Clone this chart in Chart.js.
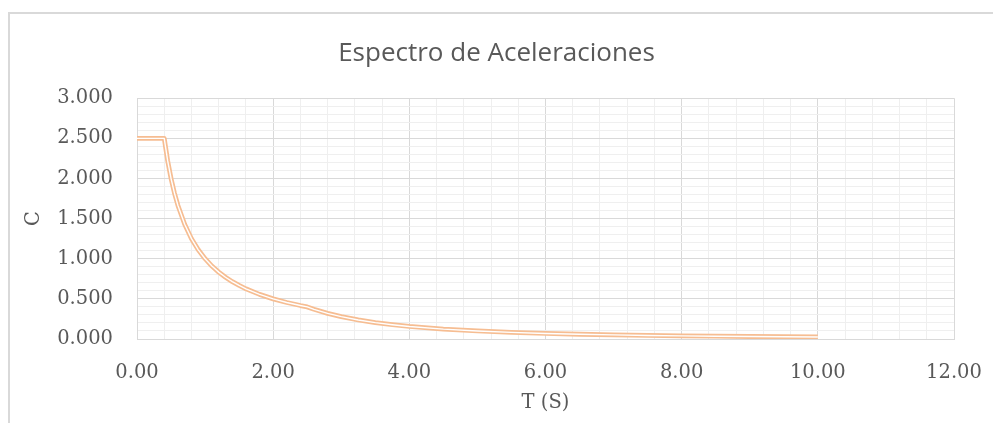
<!DOCTYPE html>
<html>
<head>
<meta charset="utf-8">
<script src="https://cdn.jsdelivr.net/npm/chart.js@4"></script>
<style>
  html, body { margin: 0; padding: 0; background: #fff; }
  body { width: 993px; height: 423px; overflow: hidden; position: relative; }
  #frame { position: absolute; left: 8px; top: 12px; width: 1000px; height: 430px; border: 2px solid #d9d9d9; box-sizing: border-box; }
  #wrap { position: absolute; left: 0; top: 0; width: 993px; height: 423px; }
</style>
</head>
<body>
<div id="frame"></div>
<div id="wrap"><canvas id="c" width="993" height="423"></canvas></div>
<script>
const chartTitle = 'Espectro de Aceleraciones';
const xAxisTitle = 'T (S)';
const yAxisTitle = 'C';
const periodT = [0, 0.1, 0.2, 0.3, 0.4, 0.45, 0.5, 0.55, 0.6, 0.7, 0.8, 0.9, 1.0, 1.1, 1.2, 1.3, 1.4, 1.5, 1.6, 1.8, 2.0, 2.2, 2.4, 2.5, 2.6, 2.8, 3.0, 3.25, 3.5, 3.75, 4.0, 4.5, 5.0, 5.5, 6.0, 6.5, 7.0, 7.5, 8.0, 8.5, 9.0, 9.5, 10.0];
const coefC = [2.5, 2.5, 2.5, 2.5, 2.5, 2.222, 2.0, 1.818, 1.667, 1.429, 1.25, 1.111, 1.0, 0.909, 0.833, 0.769, 0.714, 0.667, 0.625, 0.556, 0.5, 0.455, 0.417, 0.4, 0.37, 0.319, 0.278, 0.237, 0.204, 0.178, 0.156, 0.123, 0.1, 0.083, 0.069, 0.059, 0.051, 0.044, 0.039, 0.035, 0.031, 0.028, 0.025];
const xMajorTicks = [0, 2, 4, 6, 8, 10, 12];
const yMajorTicks = [0, 0.5, 1.0, 1.5, 2.0, 2.5, 3.0];

const pts = periodT.map((t, i) => ({ x: t, y: coefC[i] }));
const isMajor = (v, list) => list.some(m => Math.abs(m - v) < 1e-6);
const tickFont = { family: 'DejaVu Serif', size: 19.5 };
const grey = '#595959';

new Chart(document.getElementById('c'), {
  type: 'line',
  data: {
    datasets: [
      { data: pts, order: 0, borderColor: '#ffffff', borderWidth: 1.4, pointRadius: 0, tension: 0, borderJoinStyle: 'round', borderCapStyle: 'butt' },
      { data: pts, order: 1, borderColor: '#F6BD92', borderWidth: 4.8, pointRadius: 0, tension: 0, borderJoinStyle: 'round', borderCapStyle: 'butt' }
    ]
  },
  options: {
    responsive: false,
    animation: false,
    layout: { padding: 0 },
    plugins: {
      legend: { display: false },
      tooltip: { enabled: false },
      title: {
        display: true, text: chartTitle, color: grey,
        font: { family: 'Open Sans', size: 26, weight: 'normal' },
        padding: { top: 38, bottom: 29 }
      }
    },
    scales: {
      x: {
        type: 'linear', min: 0, max: 12,
        afterFit: s => { s.height = 84; s.paddingRight = 39; },
        border: { display: true, color: '#d9d9d9' },
        grid: {
          drawTicks: false,
          color: ctx => isMajor(ctx.tick.value, xMajorTicks) ? '#d9d9d9' : '#efefef',
          lineWidth: 1
        },
        ticks: {
          stepSize: 0.4, maxTicksLimit: 100, autoSkip: false, maxRotation: 0,
          padding: 22, color: grey, font: tickFont,
          callback: v => isMajor(v, xMajorTicks) ? v.toFixed(2) : ''
        },
        title: { display: true, text: xAxisTitle, color: grey, font: tickFont, padding: { top: 0, bottom: 8 } }
      },
      y: {
        type: 'linear', min: 0, max: 3,
        afterFit: s => { s.width = 137; },
        border: { display: true, color: '#d9d9d9' },
        grid: {
          drawTicks: false,
          color: ctx => isMajor(ctx.tick.value, yMajorTicks) ? '#d9d9d9' : '#efefef',
          lineWidth: 1
        },
        ticks: {
          stepSize: 0.1, maxTicksLimit: 100, autoSkip: false,
          padding: 24, color: grey, font: tickFont,
          callback: v => isMajor(v, yMajorTicks) ? v.toFixed(3) : ''
        },
        title: { display: true, text: yAxisTitle, color: grey, font: tickFont, padding: { top: 22, bottom: 0 } }
      }
    }
  }
});
</script>
</body>
</html>
